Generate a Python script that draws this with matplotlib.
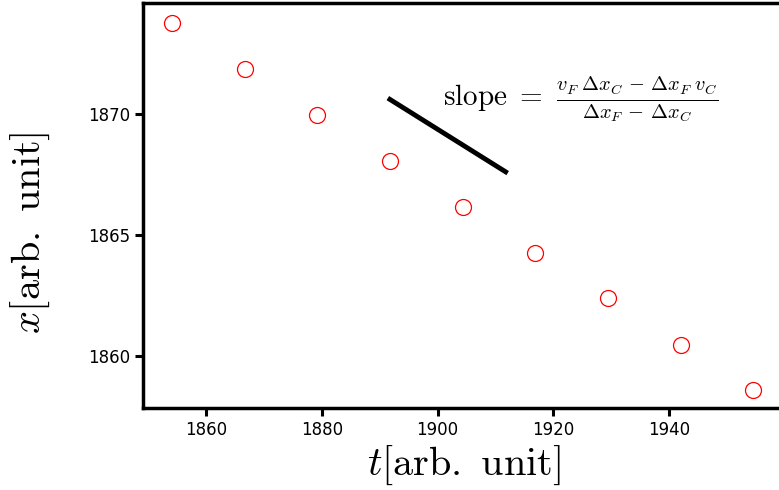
import matplotlib
matplotlib.use("Agg")
import matplotlib.pyplot as plt

plt.rcParams['mathtext.fontset'] = 'cm'

t_vals = [1854.1, 1866.7, 1879.2, 1891.8, 1904.3, 1916.9, 1929.4, 1942.0, 1954.5]
x_vals = [1873.76, 1871.86, 1869.96, 1868.06, 1866.16, 1864.26, 1862.40, 1860.45, 1858.60]

slope_t = [1891.4, 1912.1]
slope_x = [1870.66, 1867.56]

fig = plt.figure(figsize=(7.79, 4.9), dpi=100)
ax = fig.add_axes([0.1836, 0.1673, 0.824, 0.8265])

ax.plot(t_vals, x_vals, 'o', mfc='none', mec='red', ms=11.5, mew=0.9, ls='none')
ax.plot(slope_t, slope_x, color='black', lw=3.5, solid_capstyle='butt')

ax.text(1900.9, 1870.6,
        r'$\mathrm{slope}\ =\ \frac{v_F\;\Delta x_C\,-\,\Delta x_F\;v_C}{\Delta x_F\,-\,\Delta x_C}$',
        fontsize=21, va='center', ha='left')

ax.set_xlim(1849.1, 1960)
ax.set_ylim(1857.85, 1874.59)
ax.set_xticks([1860, 1880, 1900, 1920, 1940])
ax.set_yticks([1860, 1865, 1870])

for s in ax.spines.values():
    s.set_linewidth(2.5)
ax.tick_params(axis='both', which='major', labelsize=12, width=2.2, length=6,
               direction='out', top=False, right=False)

ax.set_xlabel(r'$t[\mathrm{arb.\ unit}]$', fontsize=29, labelpad=3)
ax.set_ylabel(r'$x[\mathrm{arb.\ unit}]$', fontsize=29)
ax.yaxis.set_label_coords(-0.142, 0.432)

fig.savefig('out.png', dpi=100)
